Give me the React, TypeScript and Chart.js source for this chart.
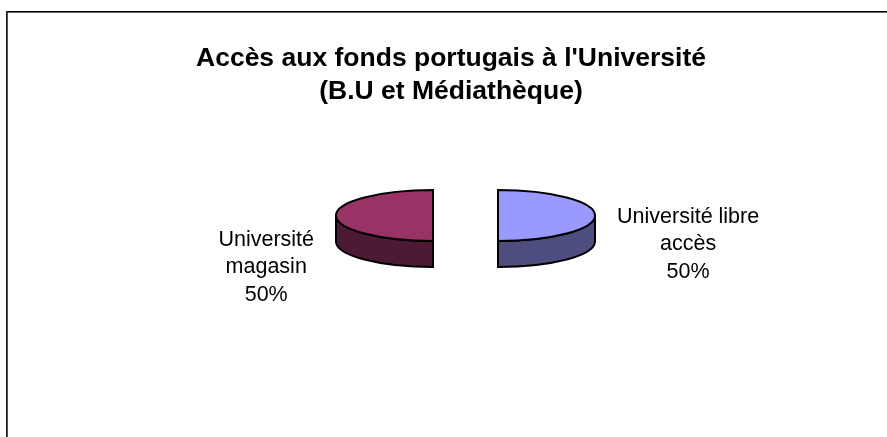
import { useEffect, useRef } from 'react';
import { Chart, registerables } from 'chart.js';

Chart.register(...registerables);

// ---- data ----
const categories = ['Université libre accès', 'Université magasin'];
const values = [50, 50];
const titleLines = ["Accès aux fonds portugais à l'Université", '(B.U et Médiathèque)'];

// ---- styles ----
const topColors = ['#9999FF', '#993366'];
const sideColors = ['#4D4D80', '#4D1A33'];
const FONT = '"Liberation Sans", Arial, Helvetica, sans-serif';
const TILT = 25.5 / 97; // vertical squash of the pie
const DEPTH = 26; // thickness of the 3D side
const EXPLODE = [47, 18]; // horizontal separation of each slice from the chart centre
const LABEL_GAP = 22;
const LABEL_DY = [34.5, 57.5]; // baseline of middle label line relative to pie centre
const LABEL_LINE = 27.5;
const LABEL_SIZE = 21.5;
const WRAP = 150;

function sliceGeom(arc: any, i: number) {
  const p = arc.getProps(['x', 'y', 'startAngle', 'endAngle', 'outerRadius'], true);
  const mid = (p.startAngle + p.endAngle) / 2;
  const cx = p.x + Math.cos(mid) * EXPLODE[i];
  const cy = p.y + Math.sin(mid) * EXPLODE[i];
  return { ...p, mid, cx, cy, rx: p.outerRadius, ry: p.outerRadius * TILT };
}

const framePlugin = {
  id: 'frame',
  beforeDraw(chart: any) {
    const ctx = chart.ctx;
    ctx.save();
    ctx.fillStyle = '#fff';
    ctx.fillRect(0, 0, chart.width, chart.height);
    ctx.fillStyle = '#000';
    ctx.fillRect(6, 11, chart.width, 1.6);
    ctx.fillStyle = '#222';
    ctx.fillRect(6, 11, 1.8, chart.height);
    ctx.restore();
  },
};

const pie3dPlugin = {
  id: 'pie3d',
  beforeDatasetsDraw(chart: any) {
    const ctx = chart.ctx;
    const meta = chart.getDatasetMeta(0);
    meta.data.forEach((arc: any, i: number) => {
      const g = sliceGeom(arc, i);
      // visible front part of the side: angles in [0, PI]
      const a = Math.max(g.startAngle, 0);
      const b = Math.min(g.endAngle, Math.PI);
      if (b > a) {
        ctx.save();
        ctx.beginPath();
        ctx.ellipse(g.cx, g.cy, g.rx, g.ry, 0, a, b, false);
        ctx.ellipse(g.cx, g.cy + DEPTH, g.rx, g.ry, 0, b, a, true);
        ctx.closePath();
        ctx.fillStyle = sideColors[i];
        ctx.fill();
        ctx.lineWidth = 2;
        ctx.strokeStyle = '#000';
        ctx.stroke();
        ctx.restore();
      }
      // top face drawn by the library's arc element, squashed vertically
      ctx.save();
      ctx.translate(g.cx, g.cy);
      ctx.scale(1, TILT);
      ctx.translate(-g.x, -g.y);
      arc.draw(ctx);
      ctx.restore();
      // outline of top face with uniform line width
      ctx.save();
      ctx.beginPath();
      ctx.save();
      ctx.translate(g.cx, g.cy);
      ctx.scale(1, TILT);
      ctx.moveTo(0, 0);
      ctx.arc(0, 0, g.outerRadius, g.startAngle, g.endAngle, false);
      ctx.closePath();
      ctx.restore();
      ctx.lineWidth = 2;
      ctx.strokeStyle = '#000';
      ctx.stroke();
      ctx.restore();
    });
    return false;
  },
};

function wrap(ctx: CanvasRenderingContext2D, text: string, max: number) {
  const words = text.split(' ');
  const lines: string[] = [];
  let cur = '';
  for (const w of words) {
    const t = cur ? cur + ' ' + w : w;
    if (cur && ctx.measureText(t).width > max) {
      lines.push(cur);
      cur = w;
    } else cur = t;
  }
  if (cur) lines.push(cur);
  return lines;
}

const labelsPlugin = {
  id: 'pieLabels',
  afterDraw(chart: any) {
    const ctx = chart.ctx;
    const meta = chart.getDatasetMeta(0);
    const data = chart.data.datasets[0].data as number[];
    const total = data.reduce((s, v) => s + v, 0);
    ctx.save();
    ctx.font = `${LABEL_SIZE}px ${FONT}`;
    ctx.fillStyle = '#000';
    ctx.textAlign = 'center';
    ctx.textBaseline = 'alphabetic';
    meta.data.forEach((arc: any, i: number) => {
      const g = sliceGeom(arc, i);
      const lines = wrap(ctx, String(chart.data.labels[i]), WRAP);
      lines.push(Math.round((data[i] / total) * 100) + '%');
      const w = Math.max(...lines.map((l) => ctx.measureText(l).width));
      const right = Math.cos(g.mid) >= 0;
      const centerX = right ? g.cx + g.rx + LABEL_GAP + w / 2 : g.cx - g.rx - LABEL_GAP - w / 2;
      const midY = g.cy + LABEL_DY[i];
      lines.forEach((l, k) => {
        ctx.fillText(l, centerX, midY + (k - (lines.length - 1) / 2) * LABEL_LINE);
      });
    });
    ctx.restore();
  },
};

export default function App() {
  const ref = useRef<HTMLCanvasElement>(null);
  useEffect(() => {
    const chart = new Chart(ref.current as HTMLCanvasElement, {
      type: 'pie',
      data: {
        labels: categories,
        datasets: [
          {
            data: values,
            backgroundColor: topColors,
            borderWidth: 0,
            offset: 0,
            radius: 97,
          } as any,
        ],
      },
      options: {
        responsive: false,
        animation: false,
        events: [],
        layout: { padding: { left: 15, right: 0, top: 0, bottom: 114 } },
        plugins: {
          legend: { display: false },
          tooltip: { enabled: false },
          title: {
            display: true,
            text: titleLines,
            color: '#000',
            font: { family: FONT, size: 26.5, weight: 'bold', lineHeight: 33 / 26.5 },
            padding: { top: 42, bottom: 0 },
          },
        },
      } as any,
      plugins: [framePlugin, pie3dPlugin, labelsPlugin],
    });
    return () => chart.destroy();
  }, []);
  return (
    <div style={{ position: 'fixed', left: 0, top: 0, width: 887, height: 437, background: '#fff' }}>
      <canvas ref={ref} width={887} height={437} style={{ display: 'block' }} />
    </div>
  );
}
